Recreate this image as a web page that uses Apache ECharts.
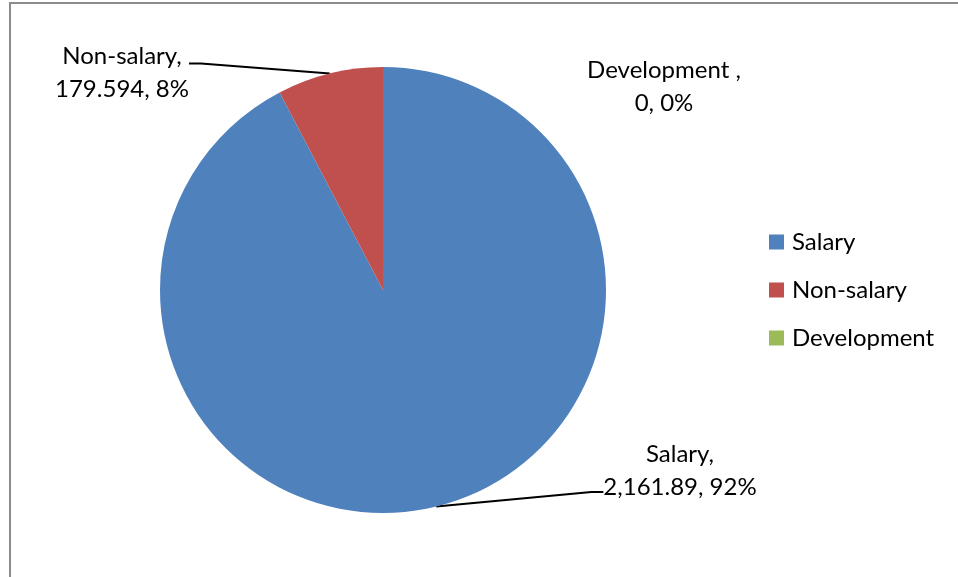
<!DOCTYPE html>
<html>
<head>
<meta charset="utf-8">
<script src="https://cdn.jsdelivr.net/npm/echarts@6/dist/echarts.min.js"></script>
<style>
html, body { margin: 0; padding: 0; background: #fff; }
#c { width: 958px; height: 577px; }
</style>
</head>
<body>
<div id="c"></div>
<script>
// ---- data ----
const categories = ['Salary', 'Non-salary', 'Development '];
const values = [2161.89, 179.594, 0];
const showLeader = [true, true, false];

// ---- styling / placement (kept apart from the data) ----
const colors = ['#4F81BD', '#C0504D', '#9BBB59'];
const labelPlacement = [
  { x: 680, y: 438, padding: [0, 0, 42, 0] },
  { x: 122, y: 21, padding: [19, 0, 0, 0] },
  { x: 664, y: 54, padding: 0 }
];
const FONT = 'Lato, "Open Sans", sans-serif';

function fmtValue(v) {
  return v.toLocaleString('en-US', { maximumFractionDigits: 3 });
}

const chart = echarts.init(document.getElementById('c'), null, { renderer: 'canvas' });

const seriesData = categories.map((name, i) => ({
  name: name,
  value: values[i],
  label: { padding: labelPlacement[i].padding },
  labelLine: { show: showLeader[i] }
}));

chart.setOption({
  animation: false,
  color: colors,
  backgroundColor: '#ffffff',
  graphic: [
    { type: 'line', silent: true, shape: { x1: 10, y1: 3, x2: 958, y2: 3 },
      style: { stroke: '#8c8c8c', lineWidth: 2 } },
    { type: 'line', silent: true, shape: { x1: 10, y1: 2, x2: 10, y2: 577 },
      style: { stroke: '#8c8c8c', lineWidth: 2 } }
  ],
  legend: {
    orient: 'vertical',
    left: 769,
    top: 230,
    padding: 0,
    icon: 'rect',
    itemWidth: 15,
    itemHeight: 15,
    itemGap: 24,
    formatter: name => name.trim(),
    textStyle: {
      fontFamily: FONT,
      fontSize: 24,
      lineHeight: 24,
      color: '#000',
      padding: [0, 0, 0, 3]
    },
    data: categories
  },
  series: [{
    type: 'pie',
    center: [383, 290],
    radius: 223,
    startAngle: 90,
    clockwise: true,
    avoidLabelOverlap: false,
    itemStyle: { borderWidth: 0 },
    emphasis: { disabled: true },
    label: {
      show: true,
      position: 'outside',
      fontFamily: FONT,
      fontSize: 24,
      lineHeight: 33,
      color: '#000',
      backgroundColor: 'rgba(255,255,255,0)',
      formatter: p => `${p.name},\n${fmtValue(p.value)}, ${Math.round(p.percent)}%`
    },
    labelLine: {
      show: true,
      length: 10,
      length2: 12,
      smooth: false,
      lineStyle: { color: '#000', width: 2 }
    },
    labelLayout: function (params) {
      const pl = labelPlacement[params.dataIndex];
      return { x: pl.x, y: pl.y, align: 'center', verticalAlign: 'top' };
    },
    data: seriesData
  }]
});
</script>
</body>
</html>
